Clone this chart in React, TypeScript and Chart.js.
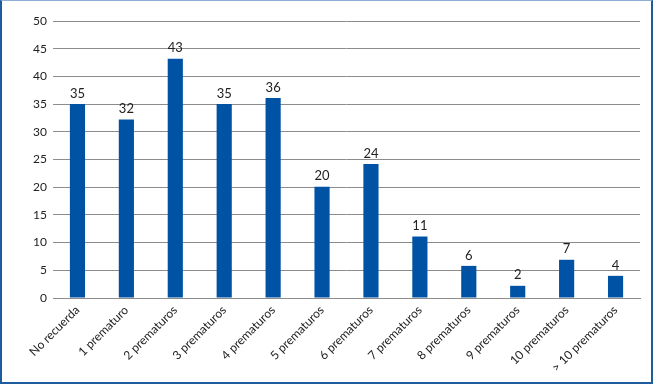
import React, { useEffect, useRef } from "react";
import { Chart, registerables } from "chart.js";

Chart.register(...registerables);

const categories = [
  "No recuerda",
  "1 prematuro",
  "2 prematuros",
  "3 prematuros",
  "4 prematuros",
  "5 prematuros",
  "6 prematuros",
  "7 prematuros",
  "8 prematuros",
  "9 prematuros",
  "10 prematuros",
  "> 10 prematuros",
];
const values = [35, 32.2, 43.2, 35, 36.1, 20.1, 24.2, 11.1, 5.8, 2.2, 6.9, 4.0];
const yMin = 0;
const yMax = 50;
const yStep = 5;

const FONT = "Lato, 'Open Sans', sans-serif";

const labelPlugin = {
  id: "barLabels",
  afterDatasetsDraw(chart: any) {
    const ctx = chart.ctx;
    const meta = chart.getDatasetMeta(0);
    ctx.save();
    ctx.font = "13px " + FONT;
    ctx.fillStyle = "#222";
    ctx.textAlign = "center";
    ctx.textBaseline = "bottom";
    meta.data.forEach((bar: any, i: number) => {
      ctx.fillText(String(Math.round(values[i])), bar.x, bar.y - 4);
    });
    ctx.restore();
  },
};

export default function App() {
  const ref = useRef<HTMLCanvasElement | null>(null);
  useEffect(() => {
    document.body.style.margin = "0";
    const chart = new Chart(ref.current!, {
      type: "bar",
      data: {
        labels: categories,
        datasets: [
          {
            data: values,
            backgroundColor: "#0053a4",
            barPercentage: 0.31,
            categoryPercentage: 1,
          },
        ],
      },
      options: {
        animation: false,
        responsive: false,
        maintainAspectRatio: false,
        layout: { padding: { top: 20, right: 11, left: 0, bottom: 0 } },
        plugins: { legend: { display: false }, tooltip: { enabled: false } },
        scales: {
          x: {
            grid: { display: false, drawTicks: false },
            border: { display: true, color: "#8c8c8c", width: 1 },
            ticks: {
              minRotation: 45,
              maxRotation: 45,
              autoSkip: false,
              color: "#222",
              padding: 5,
              font: { size: 12, family: FONT },
            },
            afterFit: (s: any) => {
              s.height = 86;
            },
          },
          y: {
            min: yMin,
            max: yMax,
            grid: { color: "#8c8c8c", lineWidth: 1, drawTicks: false },
            border: { display: false },
            ticks: {
              stepSize: yStep,
              color: "#222",
              padding: 6,
              font: { size: 12, family: FONT },
            },
            afterFit: (s: any) => {
              s.width = 51;
            },
          },
        },
      },
      plugins: [labelPlugin],
    });
    return () => chart.destroy();
  }, []);
  return (
    <div
      style={{
        position: "absolute",
        left: 0,
        top: 0,
        width: 649,
        height: 381,
        borderTop: "1px solid #8eb0d8",
        borderLeft: "2px solid #1f5c9e",
        borderRight: "2px solid #1f5c9e",
        borderBottom: "2px solid #1f5c9e",
        background: "#fff",
      }}
    >
      <canvas ref={ref} width={649} height={383} style={{ display: "block" }} />
    </div>
  );
}
